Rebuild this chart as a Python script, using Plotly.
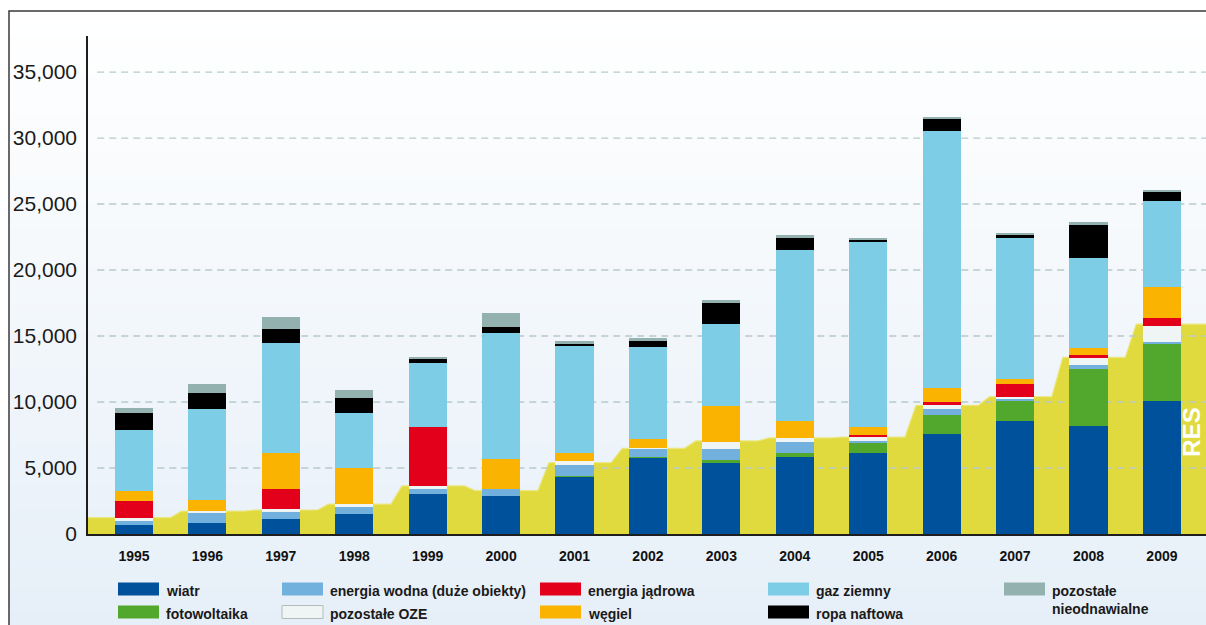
import plotly.graph_objects as go

# ---- data (MW installed per year) ----
years = [1995, 1996, 1997, 1998, 1999, 2000, 2001, 2002, 2003, 2004, 2005, 2006, 2007, 2008, 2009]
year_labels = [str(y) for y in years]

wiatr = [680, 860, 1160, 1540, 3050, 2880, 4340, 5780, 5380, 5830, 6160, 7580, 8580, 8180, 10080]
fotowoltaika = [0, 0, 0, 0, 0, 0, 60, 60, 220, 330, 760, 1460, 1570, 4320, 4290]
energia_wodna = [320, 710, 480, 510, 360, 510, 830, 600, 840, 830, 150, 410, 100, 280, 180]
pozostale_oze = [190, 170, 230, 220, 230, 0, 300, 80, 550, 260, 250, 300, 150, 550, 1210]
energia_jadrowa = [1310, 0, 1520, 0, 4460, 0, 0, 0, 0, 0, 180, 250, 990, 210, 630]
wegiel = [760, 860, 2770, 2730, 0, 2290, 580, 650, 2710, 1330, 600, 1080, 330, 570, 2320]
gaz_ziemny = [4620, 6850, 8290, 4190, 4830, 9520, 8160, 7020, 6210, 12920, 14040, 19470, 10680, 6780, 6540]
ropa_naftowa = [1310, 1230, 1050, 1090, 350, 480, 100, 410, 1610, 900, 130, 920, 300, 2570, 640]
pozostale_nieodn = [330, 710, 960, 630, 130, 1040, 230, 230, 180, 250, 180, 50, 80, 150, 170]

# renewable (RES) total shown as the yellow band behind the bars
res_total = [1240, 1740, 1820, 2270, 3640, 3280, 5400, 6490, 7050, 7280, 7340, 9750, 10400, 13380, 15900]

y_ticks = [0, 5000, 10000, 15000, 20000, 25000, 30000, 35000]
grid_levels = y_ticks[1:]

# ---- styling ----
W, H = 1206, 625
ML, MR, MT, MB = 88, 0, 36, 91
X_RANGE = [1994.374, 2009.6]
Y_RANGE = [0, 37730]
FONT = "Liberation Sans, Arial, Helvetica, sans-serif"

series = [
    ("wiatr", wiatr, "#00519c"),
    ("fotowoltaika", fotowoltaika, "#52a82c"),
    ("energia wodna (duże obiekty)", energia_wodna, "#72b1dd"),
    ("pozostałe OZE", pozostale_oze, "#eef5f4"),
    ("energia jądrowa", energia_jadrowa, "#e2001b"),
    ("węgiel", wegiel, "#f9b300"),
    ("gaz ziemny", gaz_ziemny, "#7ecde6"),
    ("ropa naftowa", ropa_naftowa, "#000000"),
    ("pozostałe<br>nieodnawialne", pozostale_nieodn, "#93b1ae"),
]
colors = {name: c for name, _, c in series}

fig = go.Figure()

# yellow RES band: flat over each year, stepping shortly after the gap midpoint
band_x, band_y = [], []
for i, (yr, v) in enumerate(zip(years, res_total)):
    x0 = X_RANGE[0] if i == 0 else yr - 0.5 + 0.15
    x1 = X_RANGE[1] + 0.2 if i == len(years) - 1 else yr + 0.5
    band_x += [x0, x1]
    band_y += [v, v]
fig.add_trace(go.Scatter(
    x=band_x, y=band_y, mode="lines", fill="tozeroy",
    fillcolor="#e0da3e", line=dict(color="#ebe67e", width=1.2),
    hoverinfo="skip", xaxis="x", yaxis="y",
))

# dashed horizontal grid, drawn over the band but under the bars
gx, gy = [], []
for g in grid_levels:
    gx += [1994.5, X_RANGE[1] + 0.2, None]
    gy += [g, g, None]
fig.add_trace(go.Scatter(
    x=gx, y=gy, mode="lines",
    line=dict(color="#b7caca", width=1.3, dash="7px,5px"),
    hoverinfo="skip", xaxis="x", yaxis="y",
))

# stacked bars on an overlaid axis pair so they sit above the band
for name, vals, col in series:
    fig.add_trace(go.Bar(
        x=years, y=vals, name=name.replace("<br>", " "),
        marker=dict(color=col, line=dict(width=0)),
        width=0.52, xaxis="x2", yaxis="y2",
    ))

# ---- background gradient and frame (paper coordinates from pixels) ----
def px_x(px):
    return (px - ML) / (W - ML - MR)


def px_y(py):
    return (H - MB - py) / (H - MT - MB)


shapes = []
top_px, bot_px = 11, 625
n_bands = 48
c_top = (255, 255, 255)
c_bot = (230, 239, 248)
for k in range(n_bands):
    t = k / (n_bands - 1)
    rgb = tuple(round(a + (b - a) * t) for a, b in zip(c_top, c_bot))
    y0 = top_px + (bot_px - top_px) * k / n_bands
    y1 = top_px + (bot_px - top_px) * (k + 1) / n_bands + 1
    shapes.append(dict(
        type="rect", xref="paper", yref="paper", layer="below",
        x0=px_x(9), x1=px_x(W + 5), y0=px_y(y0), y1=px_y(y1),
        fillcolor="rgb(%d,%d,%d)" % rgb, line=dict(width=0),
    ))
shapes.append(dict(
    type="rect", xref="paper", yref="paper", layer="below",
    x0=px_x(9), x1=px_x(W + 20), y0=px_y(11), y1=px_y(H + 20),
    fillcolor="rgba(0,0,0,0)", line=dict(color="#3a3a3a", width=1.5),
))

# ---- legend drawn by hand in five columns ----
legend_items = [
    ("wiatr", 0, 0), ("fotowoltaika", 0, 1),
    ("energia wodna (duże obiekty)", 1, 0), ("pozostałe OZE", 1, 1),
    ("energia jądrowa", 2, 0), ("węgiel", 2, 1),
    ("gaz ziemny", 3, 0), ("ropa naftowa", 3, 1),
    ("pozostałe<br>nieodnawialne", 4, 0),
]
col_x = [118, 282, 540, 768, 1004]
row_y = [589, 612]
sw_w, sw_h = 41, 13
annotations = []
for label, c, r in legend_items:
    x0 = col_x[c]
    yc = row_y[r]
    line = dict(width=0)
    if label == "pozostałe OZE":
        line = dict(color="#b3bcbc", width=1)
    shapes.append(dict(
        type="rect", xref="paper", yref="paper", layer="above",
        x0=px_x(x0), x1=px_x(x0 + sw_w),
        y0=px_y(yc - sw_h / 2), y1=px_y(yc + sw_h / 2),
        fillcolor=colors[label], line=line,
    ))
    annotations.append(dict(
        xref="paper", yref="paper", x=px_x(x0 + sw_w + 5),
        y=px_y(yc - 8), xanchor="left", yanchor="top",
        text=label, showarrow=False, align="left",
        font=dict(family=FONT, size=14, color="#1a1a1a", weight="bold"),
    ))

# vertical RES caption inside the band, close to the right edge
annotations.append(dict(
    xref="x", yref="y", x=2009.4, y=7700, text="RES", textangle=-90,
    showarrow=False, font=dict(family=FONT, size=24, color="#ffffff", weight="bold"),
))

axis_common = dict(range=X_RANGE, fixedrange=True)
fig.update_layout(
    width=W, height=H,
    margin=dict(l=ML, r=MR, t=MT, b=MB, pad=0),
    paper_bgcolor="#ffffff", plot_bgcolor="rgba(0,0,0,0)",
    barmode="stack", bargap=0, showlegend=False,
    font=dict(family=FONT, color="#1a1a1a"),
    xaxis=dict(
        **axis_common, tickmode="array", tickvals=years, ticktext=year_labels,
        showgrid=False, zeroline=False, ticks="",
        showline=True, linecolor="#1e1e1e", linewidth=1.5,
        tickfont=dict(family=FONT, size=14, color="#111111", weight="bold"),
        ticklabelstandoff=8,
    ),
    yaxis=dict(
        range=Y_RANGE, tickmode="array", tickvals=y_ticks, tickformat=",",
        showgrid=False, zeroline=False, ticks="",
        showline=True, linecolor="#1e1e1e", linewidth=1.5,
        tickfont=dict(family=FONT, size=21, color="#1a1a1a"),
        ticklabelstandoff=5,
    ),
    xaxis2=dict(**axis_common, overlaying="x", visible=False),
    yaxis2=dict(range=Y_RANGE, overlaying="y", visible=False),
    shapes=shapes,
    annotations=annotations,
)

fig.write_html("out.html")
